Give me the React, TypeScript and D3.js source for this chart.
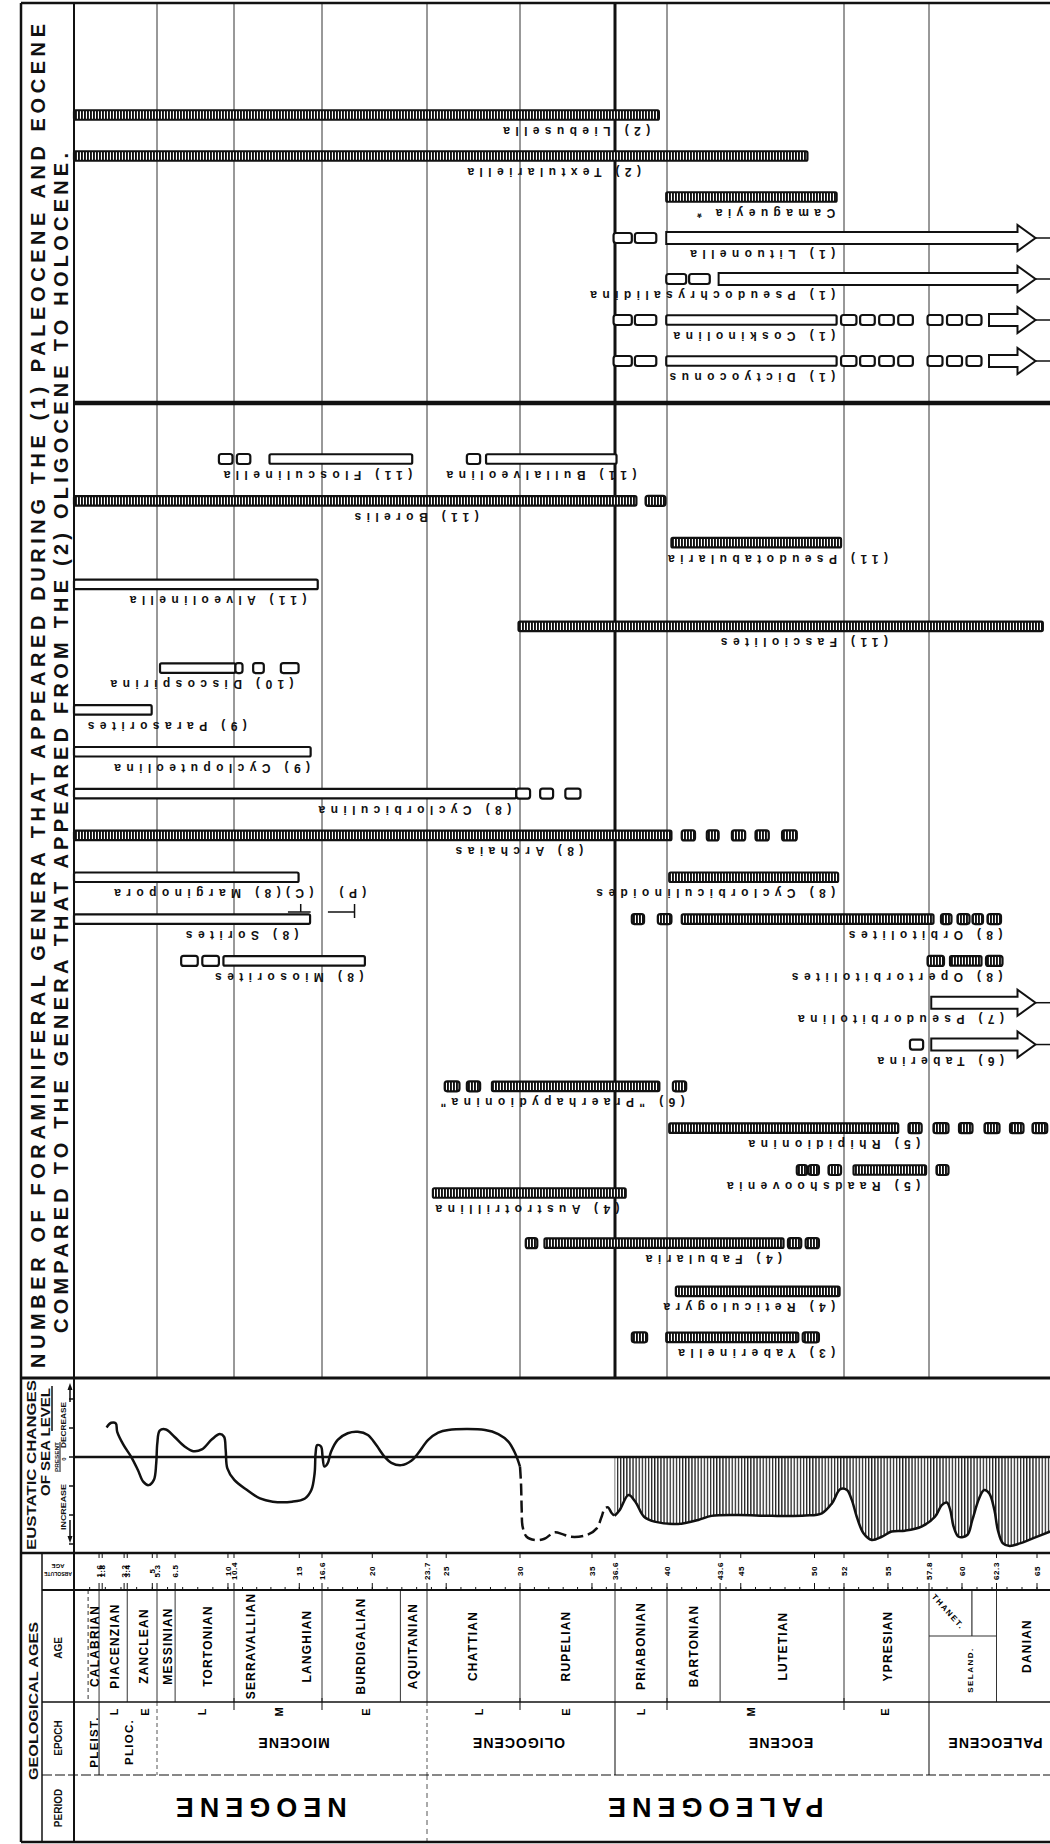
import React from "react";
import * as d3 from "d3";

// ---------- time scale (Ma) ----------
const absAgeTicks = [1.6, 1.8, 3.2, 3.4, 5, 5.3, 6.5, 10, 10.4, 15, 16.6, 20, 23.7, 25, 30, 35, 36.6, 40, 43.6, 45, 50, 52, 55, 57.8, 60, 62.3, 65];
const absAgeLabels = ["1.6", "1.8", "3.2", "3.4", "5", "5.3", "6.5", "10", "10.4", "15", "16.6", "20", "23.7", "25", "30", "35", "36.6", "40", "43.6", "45", "50", "52", "55", "57.8", "60", "62.3", "65"];
const gridAges = [5.3, 10.4, 16.6, 23.7, 30, 40, 52, 57.8];
const majorBoundaryAge = 36.6;

const stageNames = ["CALABRIAN", "PIACENZIAN", "ZANCLEAN", "MESSINIAN", "TORTONIAN", "SERRAVALLIAN", "LANGHIAN", "BURDIGALIAN", "AQUITANIAN", "CHATTIAN", "RUPELIAN", "PRIABONIAN", "BARTONIAN", "LUTETIAN", "YPRESIAN", "SELAND.", "DANIAN"];
const stageLabelAge = [1.29, 2.58, 4.48, 5.98, 8.63, 11.55, 15.49, 19.23, 22.76, 26.77, 33.15, 38.25, 41.78, 47.83, 54.96, 60.46, 64.33];
const stageBoundaries = [1.6, 3.4, 5.3, 6.5, 10.4, 16.6, 21.9, 23.7, 30, 36.6, 40, 43.6, 52, 57.8, 62.3];
const dashedStageBoundaries = [0.9];

const epochNames = ["PLEIST.", "PLIOC.", "MIOCENE", "OLIGOCENE", "EOCENE", "PALEOCENE"];
const epochLabelAge = [1.25, 3.46, 14.6, 29.9, 47.7, 62.2];
const epochSolidBounds = [1.6, 36.6, 57.8];
const epochDashedBounds = [5.3, 23.7];
const epochSubTicks = [10.4, 16.6, 30, 40, 52];
const subEpochLetters = ["L", "E", "L", "M", "E", "L", "E", "L", "M", "E"];
const subEpochAge = [2.58, 4.55, 8.29, 13.6, 19.6, 27.2, 33.2, 38.3, 45.7, 54.8];

const periodNames = ["NEOGENE", "PALEOGENE"];
const periodLabelAge = [12.1, 43.1];
const periodBoundary = 23.7;

// ---------- genera ----------
const genusLabels = [
  "(2) Liebusella", "(2) Textulariella", "Camagueyia *", "(1) Lituonella", "(1) Pseudochrysalidina", "(1) Coskinolina", "(1) Dictyoconus",
  "(11) Flosculinella", "(11) Bullalveolina", "(11) Borelis", "(11) Pseudotabularia", "(11) Alveolinella", "(11) Fasciolites",
  "(10) Discospirina", "(9) Parasorites", "(9) Cycloputeolina", "(8) Cyclorbiculina", "(8) Archaias", "(C)(8) Marginopora",
  "(8) Cyclorbiculinoides", "(8) Sorites", "(8) Orbitolites", "(8) Miosorites", "(8) Opertorbitolites", "(7) Pseudorbitolina",
  "(6) Taberina", "(6) \"Praerhapydionina\"", "(5) Rhipidionina", "(5) Raadshoovenia", "(4) Austrotrillina", "(4) Fabularia",
  "(4) Reticulogyra", "(3) Yaberinella",
];
const genusSection = ["A", "A", "A", "A", "A", "A", "A", "B", "B", "B", "B", "B", "B", "B", "B", "B", "B", "B", "B", "B", "B", "B", "B", "B", "B", "B", "B", "B", "B", "B", "B", "B", "B"];
const genusLane = [0, 1, 2, 3, 4, 5, 6, 0, 0, 1, 2, 3, 4, 5, 6, 7, 8, 9, 10, 10, 11, 11, 12, 12, 13, 14, 15, 16, 17, 17.55, 18.75, 19.9, 21];
const genusLabelEnd = [38.9, 38.3, 51.4, 51.4, 51.4, 51.4, 51.4, 22.7, 38.0, 27.2, 55.0, 15.5, 55.0, 14.6, 11.3, 15.76, 29.4, 34.4, 16.0, 51.4, 14.95, 62.7, 19.4, 62.7, 62.8, 62.8, 41.2, 57.2, 57.2, 36.9, 47.8, 51.4, 51.4];

// [genus index, kind, from Ma, to Ma]; H hatched range, O open range, h hatched box, o open box, A open arrow
const segments: [number, string, number, number][] = [
  [0, "H", 0, 39.47],
  [1, "H", 0, 49.52],
  [2, "H", 39.95, 51.5],
  [3, "o", 36.5, 37.7], [3, "o", 37.9, 39.3], [3, "A", 39.95, 64.9],
  [4, "o", 39.95, 41.3], [4, "o", 41.5, 42.9], [4, "A", 43.5, 64.9],
  [5, "o", 36.5, 37.7], [5, "o", 37.9, 39.3], [5, "O", 39.95, 51.5], [5, "o", 51.8, 52.85], [5, "o", 53.1, 54.1], [5, "o", 54.4, 55.4], [5, "o", 55.7, 56.7], [5, "o", 57.7, 58.7], [5, "o", 59.0, 60.0], [5, "o", 60.3, 61.3], [5, "A", 61.8, 64.9],
  [6, "o", 36.5, 37.7], [6, "o", 37.9, 39.3], [6, "O", 39.95, 51.5], [6, "o", 51.8, 52.85], [6, "o", 53.1, 54.1], [6, "o", 54.4, 55.4], [6, "o", 55.7, 56.7], [6, "o", 57.7, 58.7], [6, "o", 59.0, 60.0], [6, "o", 60.3, 61.3], [6, "A", 61.8, 64.9],
  [7, "o", 9.4, 10.3], [7, "o", 10.6, 11.55], [7, "O", 12.9, 22.7],
  [8, "o", 26.4, 27.3], [8, "O", 27.7, 36.7],
  [9, "H", 0, 38.0], [9, "h", 38.6, 39.9],
  [10, "H", 40.3, 51.8],
  [11, "O", 0, 16.3],
  [12, "H", 29.9, 65.4],
  [13, "O", 5.5, 10.5], [13, "o", 10.5, 11.0], [13, "o", 11.75, 12.5], [13, "o", 13.7, 14.95],
  [14, "O", 0, 4.96],
  [15, "O", 0, 15.8],
  [16, "O", 0, 29.75], [16, "o", 29.75, 30.7], [16, "o", 31.4, 32.3], [16, "o", 33.15, 34.2],
  [17, "H", 0, 40.3], [17, "h", 41.0, 41.9], [17, "h", 42.7, 43.5], [17, "h", 44.4, 45.3], [17, "h", 46.0, 46.9], [17, "h", 47.8, 48.8],
  [18, "O", 0, 14.95],
  [19, "H", 40.15, 51.6],
  [20, "O", 0, 15.76],
  [21, "h", 37.7, 38.5], [21, "h", 39.4, 40.3], [21, "H", 41.0, 58.1], [21, "h", 58.6, 59.3], [21, "h", 59.7, 60.5], [21, "h", 60.7, 61.4], [21, "h", 61.7, 62.6],
  [22, "o", 6.9, 8.0], [22, "o", 8.3, 9.4], [22, "O", 9.7, 19.5],
  [23, "h", 57.7, 58.8], [23, "H", 59.2, 61.3], [23, "h", 61.6, 62.7],
  [24, "A", 57.95, 64.9],
  [25, "o", 56.5, 57.4], [25, "A", 57.95, 64.9],
  [26, "h", 24.9, 25.9], [26, "h", 26.4, 27.3], [26, "H", 28.1, 39.5], [26, "h", 40.4, 41.3],
  [27, "H", 40.15, 55.7], [27, "h", 56.4, 57.3], [27, "h", 58.1, 59.1], [27, "h", 59.8, 60.7], [27, "h", 61.5, 62.5], [27, "h", 63.2, 64.1], [27, "h", 64.7, 65.7],
  [28, "h", 48.8, 49.5], [28, "h", 49.6, 50.3], [28, "h", 50.95, 51.8], [28, "H", 52.65, 57.6], [28, "h", 58.3, 59.1],
  [29, "H", 24.1, 37.3],
  [30, "h", 30.4, 31.2], [30, "H", 31.7, 47.9], [30, "h", 48.2, 49.1], [30, "h", 49.4, 50.3],
  [31, "H", 40.6, 51.7],
  [32, "h", 37.7, 38.7], [32, "H", 39.95, 48.9], [32, "h", 49.2, 50.3],
];
const extraLabelText = ["(P)"];
const extraLabelAt = [19.6];
const extraLabelGenus = [18];

// ---------- eustatic sea level (Ma, relative units; + = decrease) ----------
const neogeneSeaAge = [2.08, 2.38, 2.67, 2.76, 3.17, 3.67, 4.08, 4.42, 4.76, 5.10, 5.25, 5.32, 5.48, 5.89, 6.45, 7.13, 7.70, 8.27, 8.94, 9.46, 9.74, 9.85, 9.96, 10.42, 11.32, 12.23, 13.13, 14.49, 15.40, 15.85, 16.08, 16.15, 16.26, 16.53, 16.64, 16.76, 16.98, 17.21, 17.66, 18.34, 19.02, 19.70, 20.27, 20.83, 21.29, 21.96, 22.64, 23.10, 23.78, 24.46, 25.14, 27.63, 28.53, 29.21, 29.67, 30.0];
const neogeneSeaLevel = [1.02, 1.18, 1.16, 0.87, 0.41, -0.01, -0.45, -0.85, -0.97, -0.79, -0.22, 0.47, 0.91, 0.95, 0.70, 0.36, 0.20, 0.26, 0.61, 0.79, 0.70, 0.24, -0.39, -0.79, -1.14, -1.43, -1.54, -1.54, -1.43, -1.14, -0.56, 0.13, 0.41, 0.36, 0.01, -0.33, -0.22, 0.18, 0.59, 0.82, 0.87, 0.76, 0.41, 0.01, -0.20, -0.28, -0.13, 0.13, 0.59, 0.84, 0.93, 0.93, 0.79, 0.53, 0.13, -0.33];
const dashedSeaAge = [30.0, 30.07, 30.12, 30.18, 30.46, 31.02, 31.7, 32.38, 32.95, 33.51, 34.65, 35.33, 35.67, 35.89, 36.12, 36.35, 36.57];
const dashedSeaLevel = [-0.33, -0.91, -1.83, -2.40, -2.75, -2.86, -2.82, -2.6, -2.66, -2.75, -2.69, -2.46, -2.06, -1.77, -1.74, -1.92, -2.03];
const paleogeneSeaAge = [36.57, 36.91, 37.48, 37.93, 38.50, 39.18, 40.76, 42.12, 43.02, 44.84, 47.10, 49.37, 50.50, 51.18, 51.75, 52.20, 52.53, 52.87, 53.33, 53.89, 54.57, 55.25, 56.16, 57.29, 58.20, 58.65, 58.99, 59.22, 59.44, 59.78, 60.35, 60.69, 61.14, 61.48, 61.82, 62.16, 62.39, 62.73, 63.18, 63.86, 64.76, 65.9];
const paleogeneSeaLevel = [-2.03, -1.83, -1.31, -1.54, -2.06, -2.23, -2.31, -2.17, -2.03, -2.00, -2.03, -2.02, -1.94, -1.60, -1.11, -1.14, -1.48, -2.06, -2.63, -2.86, -2.75, -2.57, -2.54, -2.40, -2.06, -1.66, -1.57, -1.83, -2.40, -2.75, -2.69, -2.17, -1.43, -1.14, -1.26, -1.83, -2.52, -2.98, -3.07, -2.98, -2.80, -2.57];
const seaTicks = [2, 1, 0, -1, -2, -3];

const INK = "#111";
const FONT = "'Liberation Sans', Arial, Helvetica, sans-serif";

export default function App() {
  const W = 1050;
  // hand-drafted time axis: calibrated on the epoch boundary lines
  const x = d3.scaleLinear()
    .domain([0, 5.3, 10.4, 16.6, 23.7, 30, 36.6, 40, 52, 57.8, 65, 70])
    .range([74, 157, 234, 322, 427, 520, 615, 667, 844, 929, 1037, 1110]);
  const yA = d3.scaleLinear().domain([0, 6]).range([115, 361]);
  const yB = d3.scaleLinear().domain([0, 17]).range([459, 1170]);
  const yS = d3.scaleLinear().domain([-3, 2]).range([1544, 1399]);
  const laneY = (g: number) => (genusSection[g] === "A" ? yA(genusLane[g]) : yB(genusLane[g]));

  const L = 21, C = 74;
  const top = 3, chartBottom = 1378, seaBottom = 1553, absBottom = 1590, ageBottom = 1702, epochBottom = 1775, bottom = 1842;

  const zip = (a: number[], b: number[]) => a.map((v, i) => [v, b[i]] as [number, number]);
  const curve = d3.curveCatmullRom.alpha(0.5);
  const seaLine = d3.line<[number, number]>().x((d) => x(d[0])).y((d) => yS(d[1])).curve(curve);
  const seaArea = d3.area<[number, number]>().x((d) => x(d[0])).y0(yS(0)).y1((d) => yS(d[1])).curve(curve);
  const neo = zip(neogeneSeaAge, neogeneSeaLevel);
  const dash = zip(dashedSeaAge, dashedSeaLevel);
  const pal = zip(paleogeneSeaAge, paleogeneSeaLevel);

  const minorTicks = d3.range(1, 66);

  const renderSeg = (s: [number, string, number, number], i: number) => {
    const [g, kind, a, b] = s;
    const yc = laneY(g);
    const x0 = x(a), x1 = x(b);
    if (kind === "A") {
      const hs = 6, hh = 13, hl = 18;
      const xb = x1 - hl;
      const pts = [[x0, yc - hs], [xb, yc - hs], [xb, yc - hh], [x1, yc], [xb, yc + hh], [xb, yc + hs], [x0, yc + hs]];
      return (
        <g key={i}>
          <line x1={x1} x2={W} y1={yc} y2={yc} stroke={INK} strokeWidth={1.5} />
          <polygon points={pts.map((p) => p.join(",")).join(" ")} fill="#fff" stroke={INK} strokeWidth={2} strokeLinejoin="miter" />
        </g>
      );
    }
    const isBox = kind === "h" || kind === "o";
    const hatched = kind === "H" || kind === "h";
    const h = isBox ? 10 : 9.5;
    return (
      <rect key={i} x={x0} y={yc - h / 2} width={Math.max(2, x1 - x0)} height={h} rx={isBox ? 2.5 : 1.5}
        fill={hatched ? "url(#barHatch)" : "#fff"} stroke={INK} strokeWidth={2.2} />
    );
  };

  return (
    <svg width={1050} height={1844} viewBox="0 0 1050 1844" style={{ position: "absolute", left: 0, top: 0, background: "#fff" }}
      fontFamily={FONT}>
      <defs>
        <pattern id="barHatch" patternUnits="userSpaceOnUse" width="3" height="20">
          <rect width="3" height="20" fill="#fff" />
          <rect width="1.9" height="20" fill={INK} />
        </pattern>
        <pattern id="seaHatch" patternUnits="userSpaceOnUse" width="3.1" height="20">
          <rect width="3.1" height="20" fill="#fff" />
          <rect width="1.3" height="20" fill="#222" />
        </pattern>
        <clipPath id="pageClip"><rect x={0} y={0} width={W} height={1844} /></clipPath>
      </defs>
      <rect x={0} y={0} width={W} height={1844} fill="#fff" />
      <g clipPath="url(#pageClip)">
        {/* ----- chart gridlines ----- */}
        {gridAges.map((a) => (
          <line key={"g" + a} x1={x(a)} x2={x(a)} y1={top} y2={chartBottom} stroke="#333" strokeWidth={1} />
        ))}
        <line x1={x(majorBoundaryAge)} x2={x(majorBoundaryAge)} y1={top} y2={chartBottom} stroke={INK} strokeWidth={3} />
        <line x1={C} x2={W} y1={403} y2={403} stroke={INK} strokeWidth={4.5} />

        {/* ----- bars ----- */}
        {segments.map(renderSeg)}

        {/* brackets for (C) and (P) */}
        <g stroke={INK} strokeWidth={1.5} fill="none">
          <line x1={x(14.2)} x2={x(15.8)} y1={912} y2={912} />
          <line x1={x(15.1)} x2={x(15.1)} y1={904} y2={912} />
          <line x1={x(17.0)} x2={x(18.8)} y1={912} y2={912} />
          <line x1={x(18.8)} x2={x(18.8)} y1={904} y2={918} />
        </g>

        {/* ----- genus labels (upside-down) ----- */}
        <g fontSize={12} fontWeight="bold" fill={INK} letterSpacing={5.4}>
          {genusLabels.map((t, g) => (
            <text key={"l" + g} transform={`translate(${x(genusLabelEnd[g])},${laneY(g) + 12}) rotate(180)`}>{t}</text>
          ))}
          {extraLabelText.map((t, i) => (
            <text key={"e" + i} transform={`translate(${x(extraLabelAt[i])},${laneY(extraLabelGenus[i]) + 12}) rotate(180)`}>{t}</text>
          ))}
        </g>

        {/* ----- title ----- */}
        <g fontWeight="bold" fontSize={20} fill={INK}>
          <text transform="translate(45,1368) rotate(-90)" textLength={1344} lengthAdjust="spacing">
            NUMBER OF FORAMINIFERAL GENERA THAT APPEARED DURING THE (1) PALEOCENE AND EOCENE
          </text>
          <text transform="translate(68,1333) rotate(-90)" textLength={1180} lengthAdjust="spacing">
            COMPARED TO THE GENERA THAT APPEARED FROM THE (2) OLIGOCENE TO HOLOCENE.
          </text>
        </g>

        {/* ----- eustatic sea level ----- */}
        <path d={seaArea(pal) || ""} fill="url(#seaHatch)" stroke="none" />
        <line x1={C} x2={W} y1={yS(0)} y2={yS(0)} stroke={INK} strokeWidth={2.5} />
        <path d={seaLine(neo) || ""} fill="none" stroke={INK} strokeWidth={2.5} />
        <path d={seaLine(dash) || ""} fill="none" stroke={INK} strokeWidth={2.5} strokeDasharray="12 5" />
        <path d={seaLine(pal) || ""} fill="none" stroke={INK} strokeWidth={2.5} />
        {seaTicks.map((t) => (
          <line key={"st" + t} x1={C - 5} x2={C} y1={yS(t)} y2={yS(t)} stroke={INK} strokeWidth={1.5} />
        ))}
        <g fontWeight="bold" fill={INK}>
          <text transform="translate(36,1550) rotate(-90)" fontSize={13.5} textLength={170} lengthAdjust="spacingAndGlyphs">EUSTATIC CHANGES</text>
          <text transform="translate(50,1496) rotate(-90)" fontSize={13} textLength={108} lengthAdjust="spacingAndGlyphs">OF SEA LEVEL</text>
          <line x1={52} x2={52} y1={1386} y2={1431} stroke={INK} strokeWidth={1.5} />
          <text transform="translate(58.5,1472) rotate(-90)" fontSize={6} textLength={30} lengthAdjust="spacingAndGlyphs">PRESENT</text>
          <line x1={60} x2={60} y1={1442} y2={1472} stroke={INK} strokeWidth={1} />
          <text transform="translate(66,1448) rotate(-90)" fontSize={6.5} textLength={46} lengthAdjust="spacingAndGlyphs">DECREASE</text>
          <text transform="translate(66,1530) rotate(-90)" fontSize={6.5} textLength={46} lengthAdjust="spacingAndGlyphs">INCREASE</text>
          <text transform="translate(66,1459) rotate(-90)" fontSize={6} textAnchor="middle">0</text>
          <line x1={70} x2={70} y1={1402} y2={1386} stroke={INK} strokeWidth={1.5} />
          <path d="M67.5,1390 L70,1383 L72.5,1390 Z" fill={INK} />
          <line x1={70} x2={70} y1={1520} y2={1540} stroke={INK} strokeWidth={1.5} />
          <path d="M67.5,1536 L70,1543 L72.5,1536 Z" fill={INK} />
        </g>

        {/* ----- absolute age row ----- */}
        {minorTicks.map((m) => (
          <line key={"m" + m} x1={x(m)} x2={x(m)} y1={absBottom - 3} y2={absBottom} stroke={INK} strokeWidth={1} />
        ))}
        {absAgeTicks.map((a, i) => (
          <g key={"a" + i}>
            <line x1={x(a)} x2={x(a)} y1={seaBottom} y2={seaBottom + 5} stroke={INK} strokeWidth={1} />
            <line x1={x(a)} x2={x(a)} y1={absBottom - 7} y2={absBottom} stroke={INK} strokeWidth={1} />
            <text transform={`translate(${x(a) + 2.9},1571) rotate(-90)`} fontSize={8} fontWeight="bold" textAnchor="middle" letterSpacing={0.6}>
              {absAgeLabels[i]}
            </text>
          </g>
        ))}
        <g transform="translate(58,1571) rotate(180)" fontSize={6} fontWeight="bold" textAnchor="middle">
          <text y={-1} textLength={28} lengthAdjust="spacingAndGlyphs" x={0}>ABSOLUTE</text>
          <text y={7}>AGE</text>
        </g>

        {/* ----- age (stage) row ----- */}
        {stageBoundaries.map((a) => (
          <line key={"sb" + a} x1={x(a)} x2={x(a)} y1={absBottom} y2={ageBottom} stroke="#333" strokeWidth={1} />
        ))}
        {dashedStageBoundaries.map((a) => (
          <line key={"sd" + a} x1={x(a)} x2={x(a)} y1={absBottom} y2={ageBottom} stroke="#333" strokeWidth={1} strokeDasharray="4 3" />
        ))}
        {stageNames.map((n, i) => (
          <text key={"sn" + i} transform={`translate(${x(stageLabelAge[i]) + 4.3},${n === "SELAND." ? 1670 : 1646}) rotate(-90)`}
            fontSize={n === "SELAND." ? 8 : 12} fontWeight="bold" textAnchor="middle" letterSpacing={n === "SELAND." ? 1.5 : 1.2}>
            {n}
          </text>
        ))}
        <line x1={x(60.66)} x2={x(60.66)} y1={absBottom} y2={1636} stroke="#333" strokeWidth={1.2} />
        <line x1={x(57.8)} x2={x(62.3)} y1={1636} y2={1636} stroke="#333" strokeWidth={1.2} />
        <text transform={`translate(${x(57.95)},1597) rotate(48)`} fontSize={8} fontWeight="bold" letterSpacing={1.5}>THANET.</text>

        {/* ----- epoch row ----- */}
        {epochSolidBounds.map((a) => (
          <line key={"es" + a} x1={x(a)} x2={x(a)} y1={ageBottom} y2={epochBottom} stroke="#333" strokeWidth={1.2} />
        ))}
        {epochDashedBounds.map((a) => (
          <line key={"ed" + a} x1={x(a)} x2={x(a)} y1={ageBottom} y2={epochBottom} stroke="#555" strokeWidth={1} strokeDasharray="4 3" />
        ))}
        {epochSubTicks.map((a) => (
          <line key={"et" + a} x1={x(a)} x2={x(a)} y1={ageBottom - 4} y2={ageBottom + 8} stroke="#333" strokeWidth={1.2} />
        ))}
        {subEpochLetters.map((l, i) => (
          <text key={"se" + i} transform={`translate(${x(subEpochAge[i]) + 4},1712) rotate(-90)`} fontSize={11} fontWeight="bold" textAnchor="middle">{l}</text>
        ))}
        {epochNames.map((n, i) =>
          i < 2 ? (
            <text key={"en" + i} transform={`translate(${x(epochLabelAge[i]) + 4.5},1742) rotate(-90)`} fontSize={11.5} fontWeight="bold" textAnchor="middle" letterSpacing={1.3}>{n}</text>
          ) : (
            <text key={"en" + i} transform={`translate(${x(epochLabelAge[i])},1738) rotate(180)`} fontSize={14} fontWeight="bold" textAnchor="middle" letterSpacing={1}>{n}</text>
          )
        )}

        {/* ----- period row ----- */}
        <line x1={x(periodBoundary)} x2={x(periodBoundary)} y1={epochBottom} y2={bottom} stroke="#555" strokeWidth={1} strokeDasharray="5 4" />
        {periodNames.map((n, i) => (
          <text key={"pn" + i} transform={`translate(${x(periodLabelAge[i])},1798) rotate(180)`} fontSize={27} fontWeight="bold" textAnchor="middle" letterSpacing={6}>{n}</text>
        ))}

        {/* ----- left header for geological ages ----- */}
        <g fontWeight="bold" fill={INK}>
          <text transform="translate(38,1780) rotate(-90)" fontSize={13} textLength={158} lengthAdjust="spacingAndGlyphs">GEOLOGICAL AGES</text>
          <text transform="translate(62,1648) rotate(-90)" fontSize={10} textAnchor="middle">AGE</text>
          <text transform="translate(62,1738) rotate(-90)" fontSize={10} textAnchor="middle">EPOCH</text>
          <text transform="translate(62,1808) rotate(-90)" fontSize={10} textAnchor="middle">PERIOD</text>
        </g>

        {/* ----- frame lines ----- */}
        <g stroke={INK} fill="none">
          <line x1={L} x2={L} y1={top} y2={bottom} strokeWidth={2.5} />
          <line x1={L} x2={W} y1={top} y2={top} strokeWidth={2.5} />
          <line x1={L} x2={W} y1={bottom} y2={bottom} strokeWidth={2.5} />
          <line x1={C} x2={C} y1={top} y2={bottom} strokeWidth={2} />
          <line x1={L} x2={W} y1={chartBottom} y2={chartBottom} strokeWidth={3} />
          <line x1={L} x2={W} y1={seaBottom} y2={seaBottom} strokeWidth={2.5} />
          <line x1={42} x2={W} y1={absBottom} y2={absBottom} strokeWidth={2} />
          <line x1={42} x2={W} y1={ageBottom} y2={ageBottom} strokeWidth={1.5} />
          <line x1={42} x2={W} y1={epochBottom} y2={epochBottom} strokeWidth={1.2} strokeDasharray="10 3" />
          <line x1={42} x2={42} y1={seaBottom} y2={bottom} strokeWidth={1.5} />
        </g>
      </g>
    </svg>
  );
}
